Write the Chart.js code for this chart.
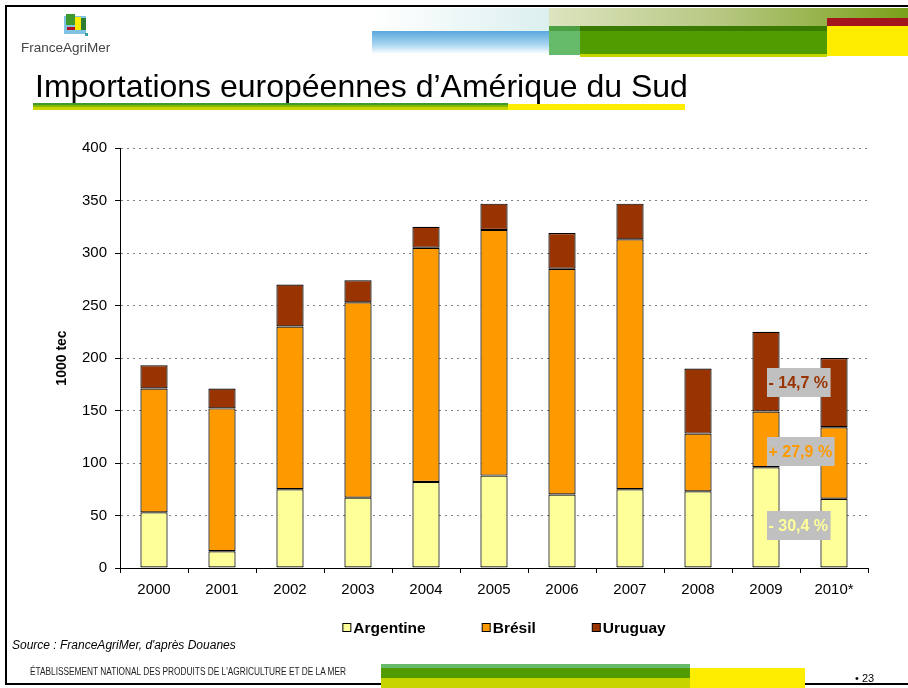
<!DOCTYPE html>
<html><head><meta charset="utf-8">
<script src="https://cdn.jsdelivr.net/npm/chart.js@4.4.0/dist/chart.umd.min.js"></script>
<style>
html,body{margin:0;padding:0;background:#fff;}
body{width:908px;height:688px;position:relative;overflow:hidden;font-family:'Liberation Sans',Arial,sans-serif;}
.abs{position:absolute;}
#chart{position:absolute;left:0;top:0;z-index:2;}
</style></head><body>
<div class="abs" style="left:5px;top:5px;width:920px;height:676px;border:2px solid #000;"></div>
<!-- header decorations -->
<div class="abs" style="left:372px;top:8px;width:177px;height:23px;background:linear-gradient(to right,#fff,#dcefef);z-index:3"></div>
<div class="abs" style="left:372px;top:31px;width:177px;height:23px;background:linear-gradient(to bottom,#5aa8dd,#a9d6f1 60%,#fff);z-index:3"></div>
<div class="abs" style="left:549px;top:8px;width:359px;height:18px;background:linear-gradient(to right,#dde4c0,#b4c67e 50%,#7aa11a);z-index:3"></div>
<div class="abs" style="left:827px;top:18px;width:81px;height:8px;background:#a2151d;z-index:4"></div>
<div class="abs" style="left:549px;top:26px;width:31px;height:29px;background:linear-gradient(to bottom,#4c9f43 0 5px,#66bb6a 5px);z-index:3"></div>
<div class="abs" style="left:580px;top:26px;width:247px;height:31px;background:linear-gradient(to bottom,#3b7a00 0 5px,#519c00 5px 28px,#c8d400 28px);z-index:3"></div>
<div class="abs" style="left:827px;top:26px;width:81px;height:30px;background:#ffed00;z-index:3"></div>
<!-- logo -->
<div class="abs" style="left:64px;top:16px;width:22px;height:18px;background:#7ec3e3;z-index:3"></div>
<div class="abs" style="left:66px;top:14px;width:9px;height:11px;background:#3c9a2e;z-index:4"></div>
<div class="abs" style="left:75px;top:17px;width:6px;height:13px;background:#ffed00;z-index:4"></div>
<div class="abs" style="left:81px;top:18px;width:5px;height:12px;background:#2e7d32;z-index:4"></div>
<div class="abs" style="left:67px;top:27px;width:8px;height:3px;background:#b01020;z-index:4"></div>
<div class="abs" style="left:85px;top:33px;width:3px;height:3px;background:#3aa0a0;z-index:4"></div>
<div class="abs" style="left:21px;top:41px;font-size:13.5px;line-height:14px;color:#444;z-index:3">FranceAgriMer</div>
<!-- title -->
<div class="abs" style="left:35px;top:70px;font-size:32px;line-height:32px;color:#000;white-space:nowrap;z-index:3">Importations européennes d’Amérique du Sud</div>
<div class="abs" style="left:33px;top:103px;width:475px;height:7px;background:linear-gradient(to bottom,#3f9b2f 0 2px,#86b800 2px 4px,#c8d400 4px);z-index:3"></div>
<div class="abs" style="left:508px;top:104px;width:177px;height:6px;background:#ffed00;z-index:3"></div>
<!-- footer -->
<div class="abs" style="left:12px;top:638px;font-size:12px;line-height:14px;font-style:italic;color:#000;white-space:nowrap;z-index:3">Source : FranceAgriMer, d'après Douanes</div>
<div id="foot" class="abs" style="left:30px;top:666px;font-size:10px;line-height:12px;color:#222;white-space:nowrap;transform-origin:left top;z-index:3">ÉTABLISSEMENT NATIONAL DES PRODUITS DE L'AGRICULTURE ET DE LA MER</div>
<div class="abs" style="left:381px;top:664px;width:309px;height:24px;background:linear-gradient(to bottom,#66bb6a 0 4px,#519c00 4px 14px,#c8d400 14px);z-index:3"></div>
<div class="abs" style="left:690px;top:668px;width:115px;height:20px;background:#ffed00;z-index:3"></div>
<div class="abs" style="left:855px;top:672px;font-size:11px;line-height:12px;color:#000;z-index:3">• 23</div>
<canvas id="chart" width="908" height="688"></canvas>
<script>
// ---- data ----
const categories = ['2000','2001','2002','2003','2004','2005','2006','2007','2008','2009','2010*'];
const argentine = [53, 16, 75, 67, 82, 88, 70, 75, 73, 96, 66];
const bresil    = [118, 136, 155, 186, 223, 234, 215, 238, 55, 53, 68];
const uruguay   = [22, 19, 40, 21, 20, 25, 34, 34, 62, 76, 66];
const seriesNames = ['Argentine', 'Brésil', 'Uruguay'];
const yTickValues = [0, 50, 100, 150, 200, 250, 300, 350, 400];
const yAxisTitle = '1000 tec';
const changeSeries = ['Uruguay', 'Brésil', 'Argentine'];
const changeTexts = ['- 14,7 %', '+ 27,9 %', '- 30,4 %'];
const changeFrom = '2009';
const changeTo = '2010*';

// ---- styles ----
const seriesColors = ['#FFFF99', '#FF9900', '#993300'];
const FONT = "'Liberation Sans', Arial, sans-serif";

// fit footer text
(function(){const f=document.getElementById('foot');const w=f.getBoundingClientRect().width;f.style.transform='scaleX('+(316/w)+')';})();

const seriesData = [argentine, bresil, uruguay];

const changePlugin = {
  id: 'changeLabels',
  afterDatasetsDraw(chart) {
    const {ctx, scales: {x, y}} = chart;
    const ia = categories.indexOf(changeFrom), ib = categories.indexOf(changeTo);
    const left = x.getPixelForValue(ia) + 1;
    ctx.save();
    ctx.font = 'bold 16px ' + FONT;
    ctx.textBaseline = 'middle';
    changeTexts.forEach((t, k) => {
      const s = seriesNames.indexOf(changeSeries[k]);
      const mid = (idx) => {
        let base = 0;
        for (let j = 0; j < s; j++) base += seriesData[j][idx];
        return base + seriesData[s][idx] / 2;
      };
      const v = (mid(ia) + mid(ib)) / 2;
      const yc = y.getPixelForValue(v);
      const w = ctx.measureText(t).width + 4;
      ctx.fillStyle = '#C0C0C0';
      ctx.fillRect(left, Math.round(yc - 14.5), w, 29);
      ctx.fillStyle = seriesColors[s];
      ctx.fillText(t, left + 1.5, yc + 1);
    });
    ctx.restore();
  }
};

const legendPlugin = {
  id: 'customLegend',
  afterDraw(chart) {
    const {ctx, chartArea} = chart;
    ctx.save();
    ctx.font = 'bold 15.5px ' + FONT;
    ctx.textBaseline = 'middle';
    const box = 8, gapT = 3, gapI = 56;
    const widths = chart.data.datasets.map(d => box + gapT + ctx.measureText(d.label).width);
    const total = widths.reduce((a, b) => a + b, 0) + gapI * (widths.length - 1);
    let xPos = (chartArea.left + chartArea.right) / 2 + 10 - total / 2;
    const yc = chartArea.bottom + 60;
    chart.data.datasets.forEach((d, i) => {
      ctx.fillStyle = d.backgroundColor;
      ctx.fillRect(xPos + 0.5, yc - 4.5, box, box);
      ctx.strokeStyle = '#000';
      ctx.lineWidth = 1;
      ctx.strokeRect(xPos + 0.5, yc - 4.5, box, box);
      ctx.fillStyle = '#000';
      ctx.fillText(d.label, xPos + box + gapT, yc + 1);
      xPos += widths[i] + gapI;
    });
    ctx.restore();
  }
};

new Chart(document.getElementById('chart'), {
  type: 'bar',
  data: {
    labels: categories,
    datasets: seriesData.map((arr, i) => ({
      label: seriesNames[i],
      data: arr,
      backgroundColor: seriesColors[i],
      borderColor: '#000',
      borderWidth: 1.2,
      borderSkipped: false,
      barPercentage: 0.4,
      categoryPercentage: 1.0
    }))
  },
  options: {
    responsive: false,
    animation: false,
    devicePixelRatio: 1,
    layout: {padding: {left: 40, right: 40, top: 148, bottom: 80}},
    plugins: {legend: {display: false}, tooltip: {enabled: false}},
    scales: {
      x: {
        stacked: true,
        grid: {display: true, drawOnChartArea: false, drawTicks: true, tickLength: 5, tickColor: '#000', offset: true},
        border: {display: true, color: '#000', width: 1},
        ticks: {color: '#000', font: {size: 15, family: FONT}, padding: 8, maxRotation: 0, autoSkip: false},
        afterFit: s => { s.height = 40; }
      },
      y: {
        stacked: true,
        min: 0, max: 400,
        afterBuildTicks: s => { s.ticks = yTickValues.map(v => ({value: v})); },
        ticks: {color: '#000', font: {size: 15, family: FONT}, padding: 8},
        grid: {color: '#808080', lineWidth: 1, drawTicks: true, tickLength: 5, tickColor: '#000', tickBorderDash: []},
        border: {display: true, color: '#000', width: 1, dash: [2, 4]},
        title: {display: true, text: yAxisTitle, color: '#000', font: {size: 14, weight: 'bold', family: FONT}, padding: {top: 14, bottom: 0}},
        afterFit: s => { s.width = 80; }
      }
    }
  },
  plugins: [changePlugin, legendPlugin]
});
</script>
</body></html>
